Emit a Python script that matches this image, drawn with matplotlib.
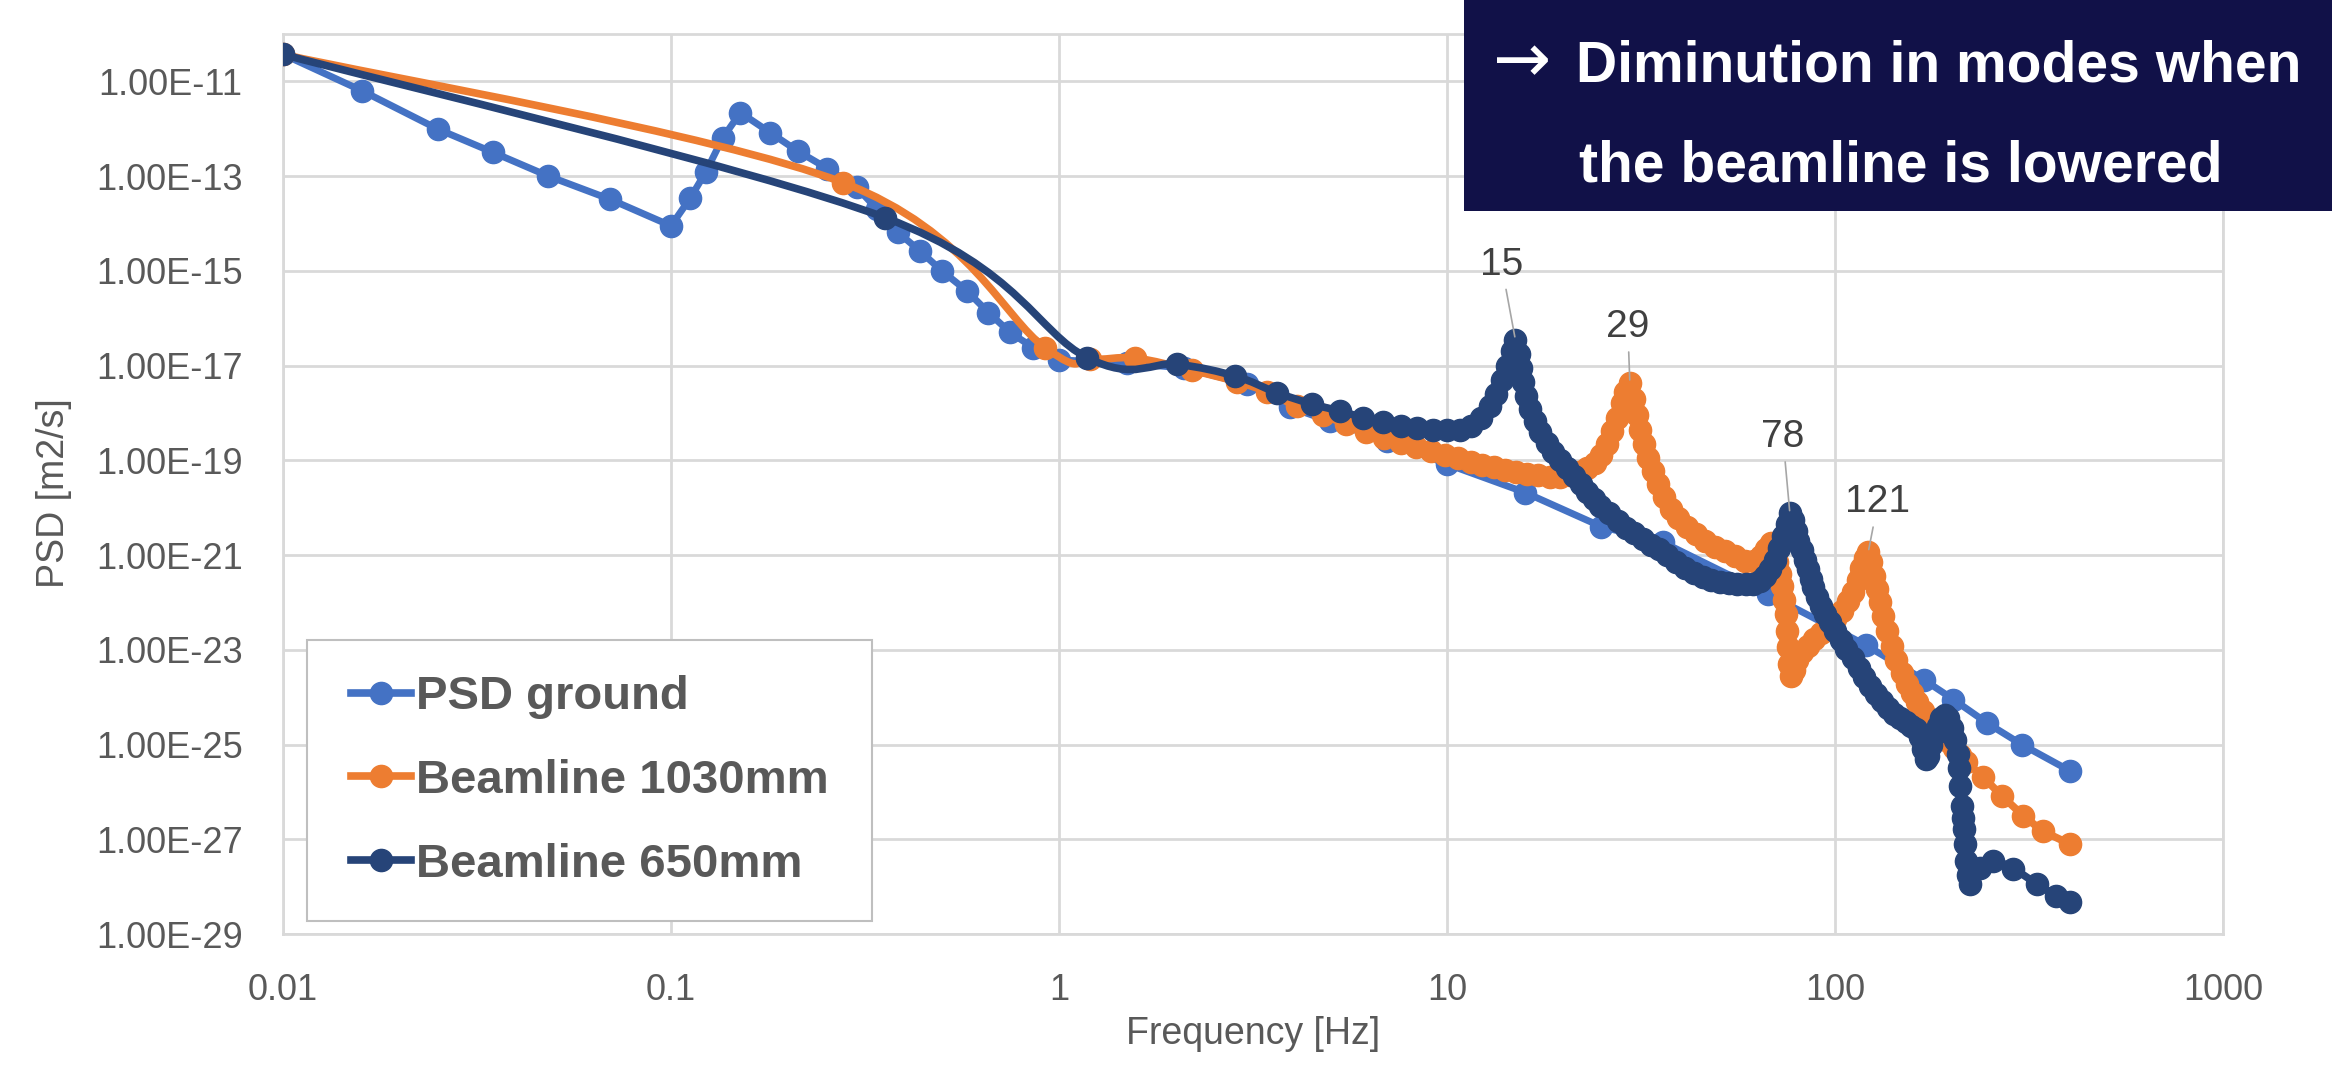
# PSD of ground vs beamline heights, Excel-style log-log chart

import numpy as np
import matplotlib
matplotlib.use("Agg")
import matplotlib.pyplot as plt
from matplotlib.path import Path
from matplotlib.patches import PathPatch, Rectangle
from matplotlib.lines import Line2D
from matplotlib.ticker import FixedLocator, FuncFormatter, NullLocator

plt.rcParams['font.family'] = ['Liberation Sans', 'DejaVu Sans']

# ---- data (frequency in Hz, PSD given as log10 of m2/s) ----
ground_f = [0.01, 0.016, 0.0251, 0.0348, 0.0483, 0.0697, 0.1, 0.112, 0.123, 0.136,
            0.151, 0.18, 0.212, 0.253, 0.301, 0.34, 0.385, 0.438, 0.499, 0.578,
            0.658, 0.748, 0.858, 1.0, 1.5, 2.1, 3.05, 3.94, 5.0, 7.0,
            10.0, 15.9, 25.0, 36.0, 67.0, 120.0, 170.0, 202.0, 247.0, 303.0, 404.0]
ground_log_psd = [-10.43, -11.2, -12.01, -12.5, -13.0, -13.49, -14.05, -13.47, -12.91, -12.19,
                  -11.66, -12.08, -12.47, -12.84, -13.24, -13.7, -14.19, -14.58, -15.0, -15.42,
                  -15.88, -16.3, -16.62, -16.88, -16.95, -17.05, -17.39, -17.88, -18.18, -18.59,
                  -19.08, -19.68, -20.4, -20.73, -21.82, -22.9, -23.64, -24.05, -24.55, -25.0, -25.56]

bl1030_f = [0.01, 0.278, 0.92, 1.2, 1.57, 2.2, 2.87, 3.43, 4.1, 4.8,
            5.5, 6.2, 6.9, 7.6, 8.3, 9.1, 9.9, 10.7, 11.5, 12.3,
            13.2, 14.1, 15.1, 16.1, 17.2, 18.4, 19.6, 20.8, 21.9, 23.0,
            24.0, 25.0, 25.9, 26.7, 27.5, 28.2, 28.8, 29.6, 30.3, 30.9,
            31.5, 32.2, 33.0, 33.9, 35.0, 36.3, 37.8, 39.5, 41.5, 43.8,
            46.3, 49.0, 52.0, 55.3, 58.7, 62.0, 64.5, 66.5, 68.3, 69.8,
            71.0, 72.2, 73.2, 74.0, 74.6, 75.1, 75.6, 76.3, 77.2, 78.5,
            80.0, 82.0, 85.0, 88.5, 92.0, 96.0, 100.0, 104.0, 108.0, 111.5,
            114.5, 117.0, 119.5, 121.8, 124.0, 126.0, 128.0, 130.5, 133.3, 136.5,
            140.0, 144.0, 148.5, 153.0, 158.0, 163.0, 169.0, 175.0, 181.0, 188.0,
            195.0, 203.0, 210.0, 218.0, 241.0, 269.0, 306.0, 344.0, 403.0]
bl1030_log_psd = [-10.43, -13.14, -16.62, -16.86, -16.84, -17.1, -17.34, -17.55, -17.86, -18.05,
                  -18.24, -18.4, -18.53, -18.63, -18.72, -18.8, -18.88, -18.96, -19.03, -19.09,
                  -19.15, -19.2, -19.24, -19.28, -19.32, -19.35, -19.35, -19.31, -19.25, -19.17,
                  -19.05, -18.88, -18.65, -18.38, -18.1, -17.8, -17.55, -17.36, -17.7, -18.05,
                  -18.35, -18.65, -18.95, -19.22, -19.5, -19.78, -20.02, -20.22, -20.4, -20.56,
                  -20.7, -20.82, -20.92, -21.02, -21.12, -21.12, -21.02, -20.88, -20.75, -20.9,
                  -21.15, -21.4, -21.65, -21.95, -22.25, -22.6, -22.95, -23.3, -23.55, -23.42,
                  -23.22, -23.05, -22.92, -22.78, -22.64, -22.5, -22.35, -22.18, -21.98, -21.77,
                  -21.52, -21.28, -21.07, -20.94, -21.15, -21.45, -21.72, -22.0, -22.28, -22.6,
                  -22.92, -23.22, -23.5, -23.72, -23.92, -24.1, -24.3, -24.47, -24.61, -24.77,
                  -24.92, -25.08, -25.22, -25.37, -25.69, -26.08, -26.5, -26.82, -27.1]

bl650_f = [0.01, 0.357, 1.18, 2.01, 2.84, 3.64, 4.48, 5.3, 6.08, 6.84,
           7.6, 8.36, 9.2, 10.0, 10.8, 11.5, 12.2, 12.9, 13.4, 13.9,
           14.3, 14.7, 15.0, 15.3, 15.5, 15.7, 16.0, 16.4, 16.9, 17.4,
           18.1, 18.8, 19.6, 20.4, 21.2, 22.1, 23.0, 23.9, 24.8, 26.2,
           27.6, 29.0, 30.4, 32.0, 33.6, 35.2, 37.0, 39.0, 41.0, 43.3,
           45.6, 48.0, 50.6, 53.3, 56.0, 58.8, 61.5, 64.0, 66.0, 68.0,
           70.0, 71.8, 73.5, 75.0, 76.5, 78.0, 79.3, 80.5, 82.0, 83.5,
           85.0, 86.5, 88.0, 90.0, 92.2, 94.5, 97.0, 100.0, 103.5, 107.0,
           111.0, 115.0, 119.0, 123.0, 127.5, 132.0, 137.0, 142.0, 147.0, 152.0,
           157.0, 162.0, 166.0, 169.0, 171.5, 174.0, 177.0, 180.5, 184.0, 188.0,
           192.0, 196.0, 200.0, 204.0, 207.0, 209.0, 210.5, 212.0, 213.5, 215.0,
           216.5, 218.0, 220.0, 223.0, 236.0, 256.0, 288.0, 331.0, 372.0, 403.0]
bl650_log_psd = [-10.43, -13.88, -16.83, -16.97, -17.22, -17.57, -17.81, -17.96, -18.1, -18.2,
                 -18.27, -18.31, -18.35, -18.37, -18.35, -18.27, -18.1, -17.85, -17.6, -17.3,
                 -17.0, -16.7, -16.45, -16.75, -17.05, -17.35, -17.65, -17.92, -18.18, -18.41,
                 -18.63, -18.83, -19.0, -19.17, -19.33, -19.5, -19.66, -19.81, -19.96, -20.12,
                 -20.28, -20.42, -20.54, -20.67, -20.78, -20.88, -21.0, -21.14, -21.27, -21.38,
                 -21.46, -21.52, -21.56, -21.59, -21.61, -21.62, -21.61, -21.55, -21.45, -21.3,
                 -21.1, -20.85, -20.6, -20.35, -20.12, -20.25, -20.5, -20.7, -20.9, -21.1,
                 -21.3, -21.5, -21.68, -21.88, -22.07, -22.25, -22.42, -22.6, -22.8, -22.98,
                 -23.18, -23.38, -23.57, -23.76, -23.93, -24.08, -24.22, -24.35, -24.45, -24.53,
                 -24.6, -24.68, -24.85, -25.1, -25.3, -25.25, -25.0, -24.78, -24.6, -24.45,
                 -24.38, -24.45, -24.65, -24.9, -25.2, -25.5, -25.87, -26.29, -26.55, -26.78,
                 -27.1, -27.45, -27.75, -27.95, -27.6, -27.45, -27.62, -27.94, -28.19, -28.33]

series_names = ["PSD ground", "Beamline 1030mm", "Beamline 650mm"]
series_colors = ["#4472C4", "#ED7D31", "#264478"]

# labelled resonance peaks: (label, series index)
peak_labels = [("15", 2), ("29", 1), ("78", 2), ("121", 1)]
peak_offsets = [(-10, 54), (-1.5, 40), (-5, 55), (7, 36)]   # text offset in points

all_f = [ground_f, bl1030_f, bl650_f]
all_psd = [10.0 ** np.array(v) for v in (ground_log_psd, bl1030_log_psd, bl650_log_psd)]
smoothed = [False, True, True]


def smooth_path(f, p):
    # Excel "smoothed line": Bezier segments with Catmull-Rom tangents in log-log space
    pts = np.column_stack([np.log10(f), np.log10(p)])
    n = len(pts)
    verts, codes = [pts[0]], [Path.MOVETO]
    for i in range(n - 1):
        p0 = pts[i - 1] if i > 0 else pts[i]
        p1, p2 = pts[i], pts[i + 1]
        p3 = pts[i + 2] if i + 2 < n else pts[i + 1]
        verts += [p1 + (p2 - p0) / 6, p2 - (p3 - p1) / 6, p2]
        codes += [Path.CURVE4] * 3
    return Path(10.0 ** np.array(verts), codes)


fig = plt.figure(figsize=(23.32, 10.66), dpi=100)
ax = fig.add_axes([283 / 2332, 132 / 1066, 1940 / 2332, 900 / 1066])
ax.set_xscale("log")
ax.set_yscale("log")

gray = "#D9D9D9"
text_gray = "#595959"
ms = 16
lws = [5.0, 5.5, 5.5]

for k in range(3):
    f, p, c = all_f[k], all_psd[k], series_colors[k]
    z = 2 + k
    if smoothed[k]:
        ax.add_patch(PathPatch(smooth_path(f, p), fill=False, edgecolor=c, lw=lws[k],
                               capstyle="round", joinstyle="round", zorder=z))
    else:
        ax.plot(f, p, color=c, lw=lws[k], solid_joinstyle="round", zorder=z)
    ax.plot(f, p, ls="none", marker="o", ms=ms, color=c, mec=c, zorder=z + 0.5)

ax.set_xlim(0.01, 1000)
ax.set_ylim(1e-29, 1e-10)

ax.xaxis.set_major_locator(FixedLocator([0.01, 0.1, 1, 10, 100, 1000]))
ax.xaxis.set_major_formatter(FuncFormatter(lambda v, _: f"{v:g}"))
ax.yaxis.set_major_locator(FixedLocator(10.0 ** np.arange(-29, -10, 2)))
ax.yaxis.set_major_formatter(FuncFormatter(lambda v, _: f"{v:.2E}"))
ax.xaxis.set_minor_locator(NullLocator())
ax.yaxis.set_minor_locator(NullLocator())
ax.tick_params(length=0, labelsize=26, labelcolor=text_gray)
ax.tick_params(axis="x", pad=28)
ax.tick_params(axis="y", pad=29)
ax.grid(True, color=gray, lw=2)
ax.set_axisbelow(True)
for s in ax.spines.values():
    s.set_color(gray)
    s.set_linewidth(2)

ax.set_xlabel("Frequency [Hz]", fontsize=27, color=text_gray, va="center")
ax.xaxis.set_label_coords(0.5, -0.111)
ax.set_ylabel("PSD [m2/s]", fontsize=27, color=text_gray, va="center")
ax.yaxis.set_label_coords(-0.118, 0.49)

# peak labels with thin leader lines
for (lab, k), off in zip(peak_labels, peak_offsets):
    f = np.array(all_f[k])
    p = all_psd[k]
    val = float(lab)
    win = np.where((f > 0.9 * val) & (f < 1.1 * val))[0]
    i = win[np.argmax(p[win])]
    ax.annotate(lab, xy=(f[i], p[i]), xytext=off, textcoords="offset points",
                ha="center", va="center", fontsize=28, color="#404040", zorder=10,
                arrowprops=dict(arrowstyle="-", color="#A6A6A6", lw=1.2,
                                shrinkA=3, shrinkB=2))

# legend with Excel-like frame
ax.add_patch(Rectangle((24 / 1940, 13 / 900), 565 / 1940, 281 / 900, transform=ax.transAxes,
                       facecolor="white", edgecolor="#BFBFBF", lw=1.5, zorder=8))
handles = [Line2D([], [], color=c, lw=5.5, marker="o", ms=ms) for c in series_colors]
leg = ax.legend(handles, series_names, loc="center left", bbox_to_anchor=(68 / 1940, 153 / 900),
                frameon=False, borderpad=0, borderaxespad=0, handlelength=1.27,
                handletextpad=0.1, labelspacing=0.84,
                prop=dict(family=["Liberation Sans", "DejaVu Sans"], weight="bold", size=34))
leg.set_zorder(9)
for t in leg.get_texts():
    t.set_color(text_gray)

# dark callout box at the top right
fig.patches.append(Rectangle((1464 / 2332, 855 / 1066), 1 - 1464 / 2332, 211 / 1066,
                             transform=fig.transFigure, facecolor="#111148",
                             edgecolor="none", zorder=20))
fig.text(1522 / 2332, 984 / 1066, "\u2192", ha="center", va="baseline", color="white",
         fontsize=50, family="DejaVu Sans", zorder=21)
fig.text(1939 / 2332, 984 / 1066, "Diminution in modes when", ha="center", va="baseline",
         color="white", fontsize=41, fontweight="bold", zorder=21)
fig.text(1901 / 2332, 884 / 1066, "the beamline is lowered", ha="center", va="baseline",
         color="white", fontsize=41, fontweight="bold", zorder=21)

fig.savefig("out.png", dpi=100)
